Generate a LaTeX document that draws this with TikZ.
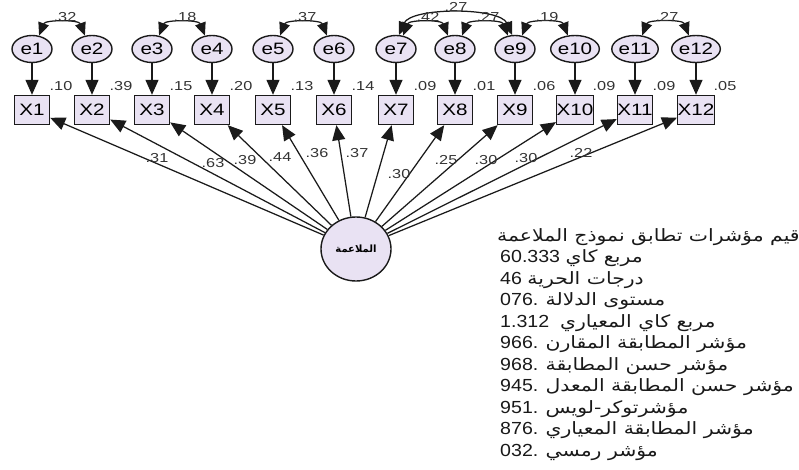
\documentclass[tikz,border=0pt]{standalone}
\usepackage{fontspec}
\setmainfont{Liberation Sans}
\newfontfamily\widefont{Liberation Sans}[FakeStretch=1.25]
\newfontfamily\numfont{Liberation Sans}[FakeStretch=1.12]
\newfontfamily\arabicfont[Script=Arabic,FakeStretch=1.2]{DejaVu Sans}
\newfontfamily\arabicsmall[Script=Arabic]{DejaVu Sans}
\TeXXeTstate=1
\usetikzlibrary{arrows.meta,shapes.geometric}
\definecolor{lav}{HTML}{E9E2F3}
\definecolor{edgecol}{HTML}{1A1A1A}
\definecolor{labcol}{HTML}{333333}
\tikzset{
  errnode/.style={ellipse, draw=edgecol, line width=1.4pt, fill=lav,
    minimum width=40pt, minimum height=27pt, inner sep=0pt,
    font=\widefont\fontsize{16.5}{16.5}\selectfont},
  obsbox/.style={rectangle, draw=edgecol, line width=1.4pt, fill=lav,
    minimum width=35pt, minimum height=29pt, inner sep=0pt,
    font=\widefont\fontsize{16.5}{16.5}\selectfont},
  latentnode/.style={ellipse, draw=edgecol, line width=1.4pt, fill=lav,
    minimum width=70pt, minimum height=64pt, inner sep=0pt},
  arr/.style={-{Triangle[length=15pt,width=13pt]}, line width=1.25pt, draw=edgecol},
  cov/.style={{Triangle[length=13pt,width=11pt]}-{Triangle[length=13pt,width=11pt]},
    line width=1.25pt, draw=edgecol},
  coef/.style={inner sep=0pt, text=labcol, font=\widefont\fontsize{13}{13}\selectfont},
  fitline/.style={anchor=west, inner sep=0pt, text=black!90,
    font=\numfont\fontsize{17.5}{17.5}\selectfont},
}
\newcommand{\ar}[1]{{\arabicfont\fontsize{17}{17}\selectfont\beginR #1\endR}}
\begin{document}
\begin{tikzpicture}[x=1pt,y=-1pt]
\useasboundingbox (0,0) rectangle (799,470);

% error terms, observed variables, e -> X arrows
\foreach \x [count=\i] in {32,92,152,212,273,334,396,455,515,575,635,696}{
  \node[errnode] (e\i) at (\x,49) {e\i};
  \node[obsbox] (X\i) at (\x,110) {X\i};
  \draw[arr] (e\i) -- (X\i);
}

% variance labels
\foreach \x/\v [count=\i] in {32/.10,92/.39,152/.15,212/.20,273/.13,334/.14,396/.09,455/.01,515/.06,575/.09,635/.09,696/.05}{
  \node[coef] (v\i) at (\x+29,86) {\v};
}

% covariances
\draw[cov] (e1.62) .. controls +(6,-16) and +(-6,-16) .. (e2.118);
\draw[cov] (e3.62) .. controls +(6,-16) and +(-6,-16) .. (e4.118);
\draw[cov] (e5.62) .. controls +(6,-16) and +(-6,-16) .. (e6.118);
\draw[cov] (e7.62) .. controls +(6,-16) and +(-6,-16) .. (e8.118);
\draw[cov] (e8.62) .. controls +(6,-16) and +(-6,-16) .. (e9.118);
\draw[cov] (e7.78) .. controls +(12,-28) and +(-12,-28) .. (e9.102);
\draw[cov] (e9.62) .. controls +(6,-16) and +(-6,-16) .. (e10.118);
\draw[cov] (e11.62) .. controls +(6,-16) and +(-6,-16) .. (e12.118);

\node[coef] (k1) at (65,17) {.32};
\node[coef] (k2) at (185,17) {.18};
\node[coef] (k3) at (305,17) {.37};
\node[coef] (k4) at (428,17) {.42};
\node[coef] (k5) at (488,17) {.27};
\node[coef] (k6) at (456,7) {.27};
\node[coef] (k7) at (547,17) {.19};
\node[coef] (k8) at (667,17) {.27};

% latent variable and loadings
\node[latentnode] (F) at (356,249) {\arabicsmall\bfseries\fontsize{10}{10}\selectfont\beginR الملاعمة\endR};
\foreach \i in {1,...,12}{
  \draw[arr] (F) -- (X\i);
}
\foreach \x/\y/\v [count=\i] in {157/158/.31,213/163/.63,245/160/.39,280/157/.44,317/153/.36,357/153/.37,399/174/.30,446/160/.25,486/160/.30,526/158/.30,581/153/.22}{
  \node[coef] (c\i) at (\x,\y) {\v};
}

% fit indices
\node[fitline] (l1) at (497,237) {\ar{قيم مؤشرات تطابق نموذج الملاعمة}};
\node[fitline] (l2) at (500,258.5) {60.333 \ar{مربع كاي}};
\node[fitline] (l3) at (500,280) {46 \ar{درجات الحرية}};
\node[fitline] (l4) at (500,301.5) {076. \ar{مستوى الدلالة}};
\node[fitline] (l5) at (500,323) {1.312\ \ \ar{مربع كاي المعياري}};
\node[fitline] (l6) at (500,344.5) {966. \ar{مؤشر المطابقة المقارن}};
\node[fitline] (l7) at (500,366) {968. \ar{مؤشر حسن المطابقة}};
\node[fitline] (l8) at (500,387.5) {945. \ar{مؤشر حسن المطابقة المعدل}};
\node[fitline] (l9) at (500,409) {951. \ar{مؤشرتوكر-لويس}};
\node[fitline] (l10) at (500,430.5) {876. \ar{مؤشر المطابقة المعياري}};
\node[fitline] (l11) at (500,452) {032. \ar{مؤشر رمسي}};
\end{tikzpicture}
\end{document}
